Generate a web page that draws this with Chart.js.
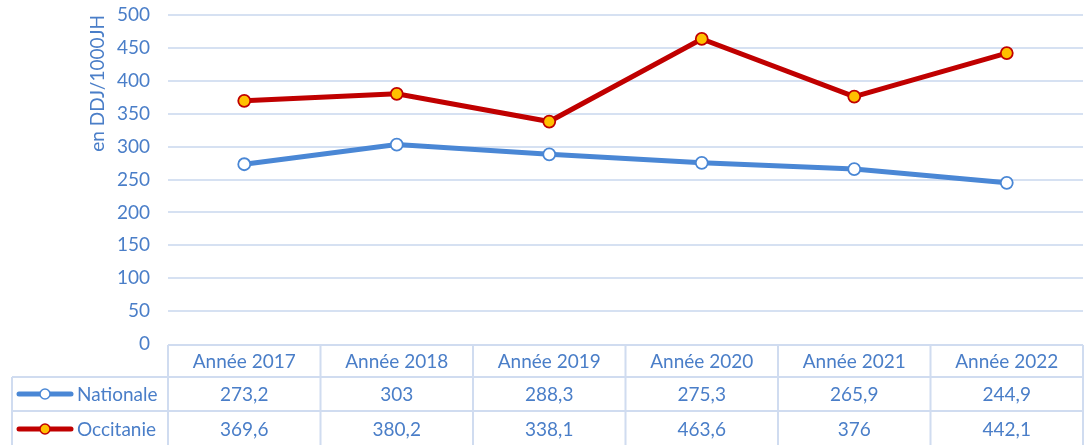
<!DOCTYPE html>
<html><head><meta charset="utf-8">
<script src="https://cdn.jsdelivr.net/npm/chart.js@4"></script>
<style>html,body{margin:0;padding:0;background:#fff}#wrap{width:1084px;height:445px;position:relative}</style>
</head><body><div id="wrap"><canvas id="c" width="1084" height="445"></canvas></div>
<script>
const categories = ['Année 2017','Année 2018','Année 2019','Année 2020','Année 2021','Année 2022'];
const nationale = [273.2, 303, 288.3, 275.3, 265.9, 244.9];
const occitanie = [369.6, 380.2, 338.1, 463.6, 376, 442.1];
const seriesNames = ['Nationale', 'Occitanie'];
const yTitle = 'en DDJ/1000JH';

const TXT = '#4a7ec8';
const GRID = '#d6e1f2';
const BORDER = '#d0dcf0';
const BLUE = '#4a87d5';
const RED = '#c00000';
const FONT = 'Lato, "Open Sans", sans-serif';

const fmt = v => String(v).replace('.', ',');

const tablePlugin = {
  id: 'dataTable',
  afterDraw(chart) {
    const ctx = chart.ctx;
    const xs = chart.scales.x;
    const area = chart.chartArea;
    const n = categories.length;
    const left = area.left, right = area.right;
    const colW = (right - left) / n;
    const top = area.bottom + 1;
    const r1 = top + 32, r2 = r1 + 34, bottom = 445;
    const legL = 12;
    ctx.save();
    ctx.strokeStyle = BORDER;
    ctx.lineWidth = 2;
    ctx.beginPath();
    ctx.moveTo(left, top); ctx.lineTo(right, top);
    ctx.moveTo(legL, r1); ctx.lineTo(right, r1);
    ctx.moveTo(legL, r2); ctx.lineTo(right, r2);
    ctx.moveTo(legL, r1); ctx.lineTo(legL, bottom);
    for (let i = 0; i <= n; i++) {
      const x = left + colW * i;
      ctx.moveTo(x, top); ctx.lineTo(x, bottom);
    }
    ctx.stroke();
    ctx.fillStyle = TXT;
    ctx.font = '19px ' + FONT;
    ctx.textAlign = 'center';
    ctx.textBaseline = 'middle';
    const rowsY = [(top + r1) / 2 + 1, (r1 + r2) / 2 + 1, (r2 + bottom) / 2 + 2];
    const series = [nationale, occitanie];
    categories.forEach((c, i) => {
      const cx = xs.getPixelForValue(i);
      ctx.fillText(c, cx, rowsY[0]);
      ctx.fillText(fmt(series[0][i]), cx, rowsY[1]);
      ctx.fillText(fmt(series[1][i]), cx, rowsY[2]);
    });
    const keys = [[BLUE, '#ffffff', BLUE], [RED, '#ffc000', RED]];
    keys.forEach((k, j) => {
      const y = rowsY[j + 1] - 1;
      ctx.strokeStyle = k[0];
      ctx.lineWidth = 5;
      ctx.lineCap = 'round';
      ctx.beginPath(); ctx.moveTo(19, y); ctx.lineTo(71, y); ctx.stroke();
      ctx.beginPath(); ctx.arc(45, y, 5, 0, Math.PI * 2);
      ctx.fillStyle = k[1]; ctx.fill();
      ctx.lineWidth = 1.5; ctx.strokeStyle = k[2]; ctx.stroke();
      ctx.fillStyle = TXT;
      ctx.textAlign = 'left';
      ctx.fillText(seriesNames[j], 77, rowsY[j + 1]);
    });
    ctx.restore();
  }
};

new Chart(document.getElementById('c'), {
  type: 'line',
  data: {
    labels: categories,
    datasets: [
      { label: seriesNames[0], data: nationale, borderColor: BLUE, backgroundColor: '#ffffff',
        borderWidth: 5, pointRadius: 6, pointBorderWidth: 1.8, pointBorderColor: BLUE, pointBackgroundColor: '#ffffff', tension: 0 },
      { label: seriesNames[1], data: occitanie, borderColor: RED, backgroundColor: '#ffc000',
        borderWidth: 5, pointRadius: 6, pointBorderWidth: 1.8, pointBorderColor: RED, pointBackgroundColor: '#ffc000', tension: 0 }
    ]
  },
  options: {
    responsive: false,
    animation: false,
    devicePixelRatio: 1,
    layout: { autoPadding: false, padding: { top: 15, right: 1, left: 0, bottom: 0 } },
    plugins: { legend: { display: false }, tooltip: { enabled: false } },
    scales: {
      x: {
        offset: true,
        ticks: { display: false },
        grid: { display: false },
        border: { display: false },
        afterFit: s => { s.height = 101; s.paddingLeft = 0; s.paddingRight = 0; }
      },
      y: {
        min: 0, max: 500,
        ticks: { stepSize: 50, color: TXT, font: { family: FONT, size: 19 }, padding: 18 },
        grid: { color: ctx => ctx.tick.value === 0 ? 'rgba(0,0,0,0)' : GRID, lineWidth: 2, drawTicks: false },
        border: { display: false },
        title: { display: true, text: yTitle, color: TXT, align: 'end', font: { family: FONT, size: 19 }, padding: { top: 86, bottom: 0 } },
        afterFit: s => { s.width = 168; s.paddingTop = 0; s.paddingBottom = 0; }
      }
    }
  },
  plugins: [tablePlugin]
});
</script></body></html>
